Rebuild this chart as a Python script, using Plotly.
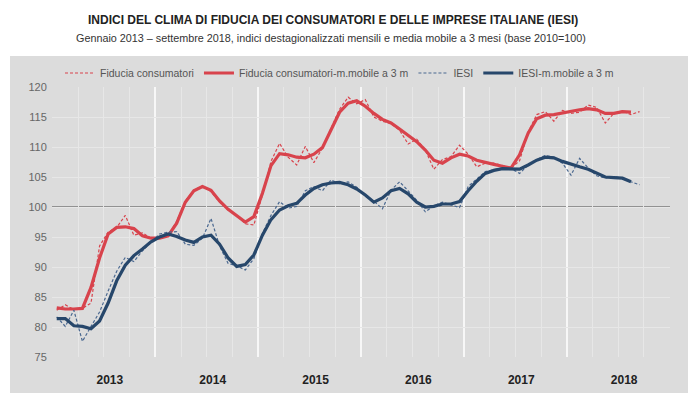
import plotly.graph_objects as go

# Monthly data, Jan 2013 - Sep 2018 (base 2010=100)
years = ["2013", "2014", "2015", "2016", "2017", "2018"]

fiducia_consumatori = [
    82.8, 83.7, 82.9, 83.1, 84.0, 93.5, 95.8, 96.6, 98.6, 95.3, 95.7, 94.8,   # 2013
    94.8, 95.3, 97.6, 101.0, 102.8, 103.5, 102.6, 100.8, 99.5, 98.6, 97.2, 97.0,  # 2014
    102.0, 107.6, 110.6, 108.3, 107.0, 110.1, 107.4, 109.8, 113.1, 116.3, 118.3, 117.2,  # 2015
    117.9, 115.0, 114.3, 113.9, 112.8, 110.5, 111.3, 109.5, 106.3, 107.9, 108.4, 110.3,  # 2016
    108.8, 106.7, 107.3, 107.3, 106.9, 106.5, 107.7, 112.5, 115.4, 115.9, 114.3, 116.1,  # 2017
    115.6, 115.8, 117.0, 116.6, 114.0, 115.6, 116.0, 115.4, 115.9,  # 2018
]
fiducia_consumatori_mm3 = [
    83.2, 83.0, 83.0, 83.1, 86.6, 91.5, 95.5, 96.6, 96.7, 96.4, 95.2, 94.8,
    94.8, 95.2, 97.3, 100.8, 102.7, 103.4, 102.8, 101.0, 99.6, 98.6, 97.5, 98.4,
    102.3, 106.9, 108.9, 108.7, 108.3, 108.2, 108.8, 109.9, 112.8, 115.8, 117.3, 117.7,
    116.8, 115.6, 114.6, 114.0, 113.0, 111.9, 110.9, 109.5, 107.8, 107.3, 108.2, 108.8,
    108.5, 107.8, 107.4, 107.1, 106.8, 106.5, 108.7, 112.3, 114.7, 115.3, 115.4, 115.7,
    115.9, 116.2, 116.4, 116.2, 115.6, 115.6, 115.9, 115.8,
]
iesi = [
    81.7, 80.1, 82.8, 77.6, 80.1, 82.5, 86.0, 89.3, 91.6, 90.9, 92.7, 94.1,
    95.5, 95.8, 95.9, 93.8, 93.6, 94.8, 98.1, 93.5, 90.6, 90.2, 89.5, 91.4,
    95.6, 98.6, 100.9, 99.8, 100.1, 102.7, 103.4, 102.7, 104.5, 103.9, 104.2, 103.3,
    101.8, 101.0, 99.7, 102.8, 104.2, 102.7, 101.1, 99.2, 100.2, 100.8, 100.3, 99.9,
    103.4, 104.7, 105.9, 106.2, 106.5, 106.4, 105.6, 107.0, 107.9, 108.6, 108.3, 107.3,
    105.3, 108.1, 106.5, 105.2, 104.8, 105.1, 104.8, 104.2, 103.7,
]
iesi_mm3 = [
    81.4, 81.4, 80.2, 80.1, 79.7, 81.0, 84.0, 87.7, 90.3, 91.9, 93.0, 94.2,
    95.0, 95.5, 95.1, 94.5, 94.1, 95.0, 95.3, 93.8, 91.5, 90.1, 90.4, 92.0,
    95.3, 97.9, 99.5, 100.2, 100.6, 102.0, 103.1, 103.7, 104.0, 104.1, 103.7, 103.0,
    102.0, 100.8, 101.5, 102.7, 103.1, 102.2, 100.8, 100.0, 100.1, 100.5, 100.5, 100.9,
    102.7, 104.3, 105.6, 106.1, 106.4, 106.3, 106.3, 107.0, 107.8, 108.3, 108.2, 107.6,
    107.1, 106.7, 106.3, 105.6, 105.0, 104.9, 104.8, 104.2,
]

y_ticks = [75, 80, 85, 90, 95, 100, 105, 110, 115, 120]

RED = "#d8434c"
BLUE = "#27476b"
BLUE_D = "#4a6890"
FONT = "Liberation Sans Narrow, Arial Narrow, Liberation Sans, sans-serif"

n_months = 12 * len(years)
year_bounds = [12 * i - 0.5 for i in range(len(years) + 1)]
year_centers = [12 * i + 6.2 for i in range(len(years))]

fig = go.Figure()
fig.add_trace(go.Scatter(
    x=list(range(len(fiducia_consumatori))), y=fiducia_consumatori,
    mode="lines", name="Fiducia consumatori",
    line=dict(color=RED, width=1.2, dash="3px,2px")))
fig.add_trace(go.Scatter(
    x=list(range(len(fiducia_consumatori_mm3))), y=fiducia_consumatori_mm3,
    mode="lines", name="Fiducia consumatori-m.mobile a 3 m",
    line=dict(color=RED, width=3.2)))
fig.add_trace(go.Scatter(
    x=list(range(len(iesi))), y=iesi,
    mode="lines", name="IESI",
    line=dict(color=BLUE_D, width=1.2, dash="3px,2px")))
fig.add_trace(go.Scatter(
    x=list(range(len(iesi_mm3))), y=iesi_mm3,
    mode="lines", name="IESI-m.mobile a 3 m",
    line=dict(color=BLUE, width=3.2)))

# invisible trace to carry the year labels on an overlay axis
fig.add_trace(go.Scatter(x=[year_centers[0]], y=[None], xaxis="x2",
                         showlegend=False, hoverinfo="skip"))

# page body has an 8px default margin: work in reference pixels minus 8
OFF = 8
W, H = 696 - OFF, 409 - OFF
L, T = 52 - OFF, 87 - OFF
pw, ph = 618, 270
R, B = W - L - pw, H - T - ph


def px(xr):
    return (xr - OFF - L) / pw


def py(yr):
    return 1 - (yr - OFF - T) / ph


fig.update_layout(
    width=W, height=H,
    margin=dict(l=L, r=R, t=T, b=B, autoexpand=False),
    paper_bgcolor="white",
    plot_bgcolor="#dcdcdc",
    font=dict(family=FONT, size=11, color="#444"),
    showlegend=True,
    legend=dict(orientation="h", x=px(60), xanchor="left",
                y=py(73), yanchor="middle",
                bgcolor="rgba(0,0,0,0)",
                font=dict(family=FONT, size=10.5, color="#555"),
                itemwidth=30, tracegroupgap=0),
    xaxis=dict(range=[-0.55, n_months - 0.45], tickmode="array",
               tickvals=year_bounds, showticklabels=False, automargin=False,
               showgrid=True, gridcolor="#f7f7f7", gridwidth=2,
               zeroline=False, showline=False, ticks="",
               minor=dict(tickmode="linear", tick0=-0.5, dtick=3,
                          showgrid=True, gridcolor="#e7e7e7", gridwidth=1,
                          ticks="")),
    xaxis2=dict(range=[-0.55, n_months - 0.45], overlaying="x", side="bottom",
                anchor="y", tickmode="array", tickvals=year_centers,
                ticktext=["<b>%s</b>" % y for y in years], automargin=False,
                showgrid=False, zeroline=False,
                ticks="outside", ticklen=12, tickcolor="rgba(0,0,0,0)",
                tickfont=dict(family=FONT, size=12, color="#222")),
    yaxis=dict(range=[75, 120], tickmode="array", tickvals=y_ticks,
               showgrid=True, gridcolor="#e7e7e7", gridwidth=1, automargin=False,
               zeroline=False, ticks="outside", ticklen=2,
               tickcolor="rgba(0,0,0,0)",
               tickfont=dict(family=FONT, size=11, color="#666")),
    shapes=[
        dict(type="rect", xref="paper", yref="paper", layer="below",
             x0=px(10), x1=px(689), y0=py(393), y1=py(56),
             fillcolor="#dcdcdc", line=dict(width=0)),
        dict(type="line", xref="paper", yref="y", x0=0, x1=1, y0=100, y1=100,
             line=dict(color="#7a7a7a", width=1.5), layer="below"),
    ],
    annotations=[
        dict(text="<b>INDICI DEL CLIMA DI FIDUCIA DEI CONSUMATORI E DELLE IMPRESE ITALIANE (IESI)</b>",
             xref="paper", yref="paper", x=px(333), y=py(20),
             xanchor="center", yanchor="middle", showarrow=False,
             font=dict(family=FONT, size=12, color="#222")),
        dict(text="Gennaio 2013 \u2013 settembre 2018, indici destagionalizzati mensili e media mobile a 3 mesi (base 2010=100)",
             xref="paper", yref="paper", x=px(331), y=py(38),
             xanchor="center", yanchor="middle", showarrow=False,
             font=dict(family=FONT, size=10.8, color="#333")),
    ],
)

fig.write_html("out.html")
